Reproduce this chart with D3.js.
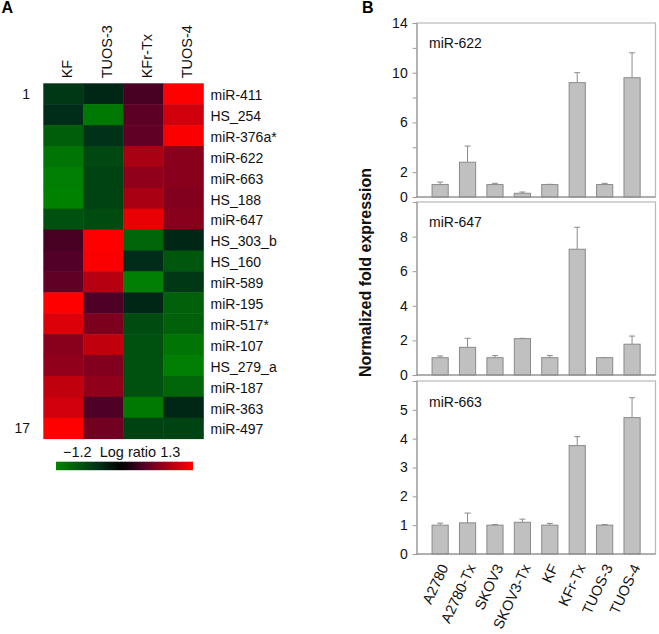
<!DOCTYPE html>
<html>
<head>
<meta charset="utf-8">
<script src="https://cdn.jsdelivr.net/npm/d3@7/dist/d3.min.js"></script>
<style>
  html, body { margin: 0; padding: 0; background: #fff; }
  svg { display: block; font-family: "Liberation Sans", Arial, sans-serif; }
</style>
</head>
<body>
<svg id="chart" width="659" height="634"></svg>
<script>
// ---------- Heatmap data (log ratio) ----------
const heatCols = ["KF", "TUOS-3", "KFr-Tx", "TUOS-4"];
const heatRows = ["miR-411", "HS_254", "miR-376a*", "miR-622", "miR-663", "HS_188", "miR-647",
  "HS_303_b", "HS_160", "miR-589", "miR-195", "miR-517*", "miR-107", "HS_279_a", "miR-187", "miR-363", "miR-497"];
const heatKF    = [-0.50, -0.40, -0.85, -1.05, -1.15, -1.18, -0.72, 0.35, 0.40, 0.48, 1.30, 1.12, 0.68, 0.72, 0.98, 1.05, 1.30];
const heatTUOS3 = [-0.35, -1.10, -0.45, -0.65, -0.60, -0.60, -0.68, 1.30, 1.28, 0.92, 0.38, 0.62, 0.98, 0.65, 0.72, 0.38, 0.56];
const heatKFrTx = [0.35, 0.45, 0.48, 0.85, 0.72, 0.85, 1.18, -0.92, -0.40, -1.15, -0.35, -0.68, -0.72, -0.72, -0.72, -1.10, -0.60];
const heatTUOS4 = [1.30, 1.05, 1.28, 0.68, 0.68, 0.65, 0.68, -0.35, -0.78, -0.50, -0.88, -0.88, -1.05, -1.15, -0.92, -0.35, -0.60];
const heatMin = -1.2, heatMax = 1.3;

// ---------- Bar chart data ----------
const cellLines = ["A2780", "A2780-Tx", "SKOV3", "SKOV3-Tx", "KF", "KFr-Tx", "TUOS-3", "TUOS-4"];
const mir622    = [1.0, 2.8, 1.0, 0.3, 1.0, 9.2, 1.0, 9.6];
const mir622Err = [0.2, 1.3, 0.1, 0.1, 0.02, 0.8, 0.1, 2.0];
const mir647    = [1.0, 1.6, 1.0, 2.1, 1.0, 7.27, 1.0, 1.78];
const mir647Err = [0.1, 0.52, 0.12, 0.02, 0.12, 1.27, 0.0, 0.47];
const mir663    = [1.0, 1.08, 1.0, 1.1, 1.0, 3.76, 1.0, 4.73];
const mir663Err = [0.07, 0.34, 0.02, 0.11, 0.06, 0.31, 0.02, 0.69];
const ticks622 = [0, 2, 4, 6, 8, 10, 12, 14];
const labels622 = [0, 2, 6, 10, 14];
const ticks647 = [0, 2, 4, 6, 8];
const ticks663 = [0, 1, 2, 3, 4, 5];

const svg = d3.select("#chart");

// ===== Panel A: heatmap =====
const hm = { left: 43.3, right: 203.3, top: 83.3, bottom: 438.6 };
const hx = d3.scaleBand().domain(heatCols).range([hm.left, hm.right]);
const hy = d3.scaleBand().domain(heatRows).range([hm.top, hm.bottom]);
const color = d3.scaleLinear()
  .domain([heatMin, -0.4, 0, 0.4, heatMax])
  .range(["#008400", "#002d19", "#000000", "#520028", "#ff0000"])
  .clamp(true);

const heatSeries = [heatKF, heatTUOS3, heatKFrTx, heatTUOS4];
const cells = [];
heatCols.forEach((c, ci) => heatRows.forEach((r, ri) => cells.push({ c, r, v: heatSeries[ci][ri] })));

svg.append("g").selectAll("rect").data(cells).join("rect")
  .attr("x", d => hx(d.c))
  .attr("y", d => hy(d.r))
  .attr("width", hx.bandwidth() + 0.5)
  .attr("height", hy.bandwidth() + 0.5)
  .attr("fill", d => color(d.v));

// column labels (rotated, reading upward)
svg.append("g").selectAll("text").data(heatCols).join("text")
  .attr("transform", d => `translate(${hx(d) + hx.bandwidth() / 2 + 8.8},78.3) rotate(-90)`)
  .attr("text-anchor", "start")
  .attr("font-size", 14.5)
  .attr("fill", "#111")
  .text(d => d);

// row labels
svg.append("g").selectAll("text").data(heatRows).join("text")
  .attr("x", 210.5)
  .attr("y", d => hy(d) + hy.bandwidth() / 2)
  .attr("dy", "0.45em")
  .attr("font-size", 14)
  .attr("fill", "#111")
  .text(d => d);

// row index labels
svg.append("text").attr("x", 30).attr("y", hy(heatRows[0]) + hy.bandwidth() / 2).attr("dy", "0.36em")
  .attr("text-anchor", "end").attr("font-size", 14).attr("fill", "#111").text("1");
svg.append("text").attr("x", 30).attr("y", hy(heatRows[16]) + hy.bandwidth() / 2).attr("dy", "0.36em")
  .attr("text-anchor", "end").attr("font-size", 14).attr("fill", "#111").text("17");

// color bar
const cb = { x0: 56, x1: 193, y: 461.7, h: 8.5 };
const defs = svg.append("defs");
const grad = defs.append("linearGradient").attr("id", "cbGrad");
const cbScale = d3.scaleLinear().domain([heatMin, heatMax]).range([0, 1]);
d3.range(0, 21).forEach(i => {
  const v = heatMin + (heatMax - heatMin) * i / 20;
  grad.append("stop").attr("offset", cbScale(v)).attr("stop-color", color(v));
});
svg.append("rect").attr("x", cb.x0).attr("y", cb.y).attr("width", cb.x1 - cb.x0).attr("height", cb.h)
  .attr("fill", "url(#cbGrad)");
svg.append("text").attr("x", 63).attr("y", 456.5).attr("font-size", 14.5).attr("fill", "#111")
  .attr("xml:space", "preserve")
  .text(`\u2212${Math.abs(heatMin)}  Log ratio ${heatMax}`);

// panel letters
svg.append("text").attr("x", 1.5).attr("y", 13.3).attr("font-size", 16).attr("font-weight", "bold").text("A");
svg.append("text").attr("x", 362).attr("y", 13.3).attr("font-size", 16).attr("font-weight", "bold").text("B");

// ===== Panel B: bar charts =====
const plotL = 416.7, plotR = 655.5;
const bx = d3.scaleBand().domain(cellLines).range([plotL, plotR]).paddingInner(0.41).paddingOuter(0.56);

const panels = [
  { name: "miR-622", vals: mir622, errs: mir622Err, domain: [0, 14], top: 23, bottom: 197, ticks: ticks622, labels: labels622, labelY: 48 },
  { name: "miR-647", vals: mir647, errs: mir647Err, domain: [0, 10], top: 202, bottom: 375, ticks: ticks647, labels: ticks647, labelY: 227 },
  { name: "miR-663", vals: mir663, errs: mir663Err, domain: [0, 6], top: 381, bottom: 554, ticks: ticks663, labels: ticks663, labelY: 407 }
];

panels.forEach(p => {
  const y = d3.scaleLinear().domain(p.domain).range([p.bottom, p.top]);
  const g = svg.append("g");
  // frame
  g.append("rect").attr("x", plotL).attr("y", p.top).attr("width", plotR - plotL).attr("height", p.bottom - p.top)
    .attr("fill", "none").attr("stroke", "#b8b8b8").attr("stroke-width", 1.2);

  const data = cellLines.map((c, i) => ({ c, v: p.vals[i], e: p.errs[i] }));
  // error bars (upper only)
  g.selectAll(".err").data(data).join("path")
    .attr("d", d => {
      const cx = bx(d.c) + bx.bandwidth() / 2;
      return `M${cx},${y(d.v)}V${y(d.v + d.e)}M${cx - 3},${y(d.v + d.e)}H${cx + 3}`;
    })
    .attr("stroke", "#8a8a8a").attr("stroke-width", 1).attr("fill", "none");
  // bars
  g.selectAll(".bar").data(data).join("rect")
    .attr("x", d => bx(d.c))
    .attr("y", d => y(d.v))
    .attr("width", bx.bandwidth())
    .attr("height", d => y(0) - y(d.v))
    .attr("fill", "#c0c0c0").attr("stroke", "#8a8a8a").attr("stroke-width", 1);

  // axis
  const ax = d3.axisLeft(y).tickValues(p.ticks).tickSize(4).tickPadding(5)
    .tickFormat(d => p.labels.includes(d) ? d : "");
  const axG = g.append("g").attr("transform", `translate(${plotL},0)`).call(ax);
  axG.select(".domain").attr("stroke", "#9a9a9a");
  axG.selectAll(".tick line").attr("stroke", "#9a9a9a");
  axG.selectAll(".tick text").attr("font-size", 14).attr("fill", "#111")
    .attr("font-family", "Liberation Sans, Arial, sans-serif");

  // zero baseline
  g.append("line").attr("x1", plotL).attr("x2", plotR).attr("y1", y(0)).attr("y2", y(0))
    .attr("stroke", "#8a8a8a").attr("stroke-width", 1.2);

  g.append("text").attr("x", 429).attr("y", p.labelY).attr("font-size", 14).attr("fill", "#111").text(p.name);
});

// x labels
svg.append("g").selectAll("text").data(cellLines).join("text")
  .attr("transform", d => `translate(${bx(d) + bx.bandwidth() / 2 + 4},565) rotate(-65)`)
  .attr("text-anchor", "end")
  .attr("dy", "0.35em")
  .attr("font-size", 14.5)
  .attr("fill", "#111")
  .text(d => d);

// y title
svg.append("text")
  .attr("transform", "translate(371,272.5) rotate(-90)")
  .attr("text-anchor", "middle")
  .attr("font-size", 16)
  .attr("font-weight", "bold")
  .attr("fill", "#111")
  .text("Normalized fold expression");
</script>
</body>
</html>
